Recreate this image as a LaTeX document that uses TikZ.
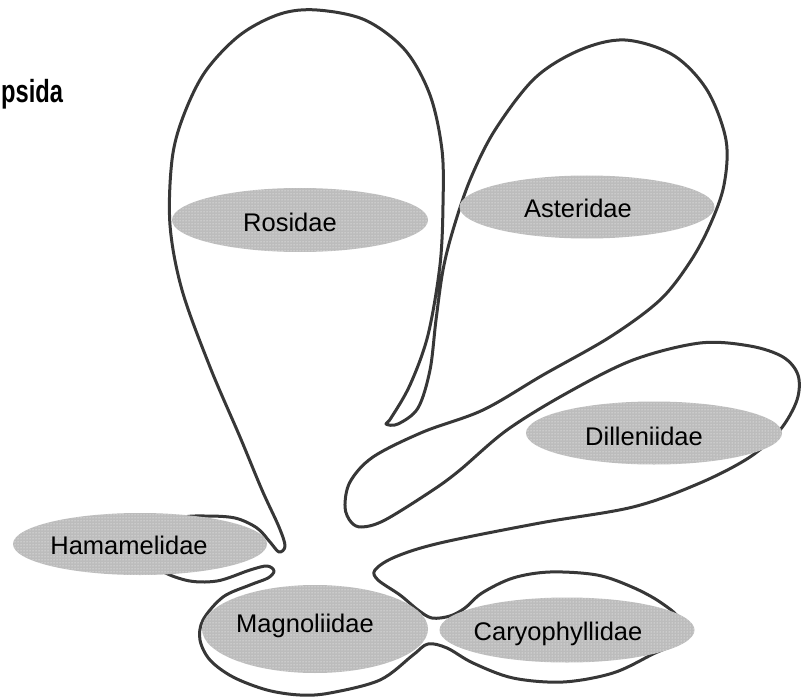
\documentclass[tikz,border=0pt]{standalone}
\usepackage{fontspec}
\setmainfont{Liberation Sans}
\usetikzlibrary{shapes.geometric,patterns}
\definecolor{linecol}{RGB}{55,55,55}
\definecolor{ellfill}{RGB}{188,188,188}
\tikzset{
  outline/.style={draw=linecol, line width=3pt, line join=round},
  ell/.style={ellipse, draw=none, fill=ellfill, inner sep=0pt,
    postaction={pattern=dots, pattern color=white}},
  lab/.style={anchor=base, inner sep=0pt, font=\fontsize{25.5}{30}\selectfont, text=black},
}
\begin{document}
\begin{tikzpicture}[x=1pt,y=-1pt]
\useasboundingbox (0,0) rectangle (801,698);
\draw[outline] plot[smooth cycle, tension=0.55] coordinates {
(205,516) (235,518) (257,528) (270,542) (279,552) (285,546) (279,527)
(262,490) (240,437) (210,367) (182,290) (170,225) (172,160) (183,117)
(205,72) (240,35) (280,14) (317,10) (365,20) (405,50) (430,95) (442,150)
(443,205) (440,265) (428,335) (410,385) (391,418) (386,424) (398,424)
(418,408) (430,370) (436,320) (443,270) (453,230) (470,180) (495,130)
(535,78) (580,50) (625,40) (673,55) (707,90) (726,140) (724,185) (710,225)
(690,262) (660,300) (610,337) (543,375) (483,410) (423,432) (373,457)
(350,482) (345,507) (351,522) (362,527) (385,520) (433,490) (460,470)
(507,430) (567,393) (633,360) (700,343) (750,346) (783,357) (798,375)
(797,400) (780,430) (750,457) (700,483) (633,507) (540,523) (440,543)
(395,557) (375,570) (378,580) (400,595) (418,610) (432,618) (450,616)
(465,608) (482,593) (513,578) (550,572) (597,575) (632,587) (660,602)
(680,620) (676,642) (653,654) (613,673) (563,682) (513,678) (473,663)
(447,648) (428,644) (413,655) (380,680) (330,693) (300,695) (267,690)
(233,677) (210,660) (200,640) (203,620) (223,597) (250,585) (268,578)
(274,571) (267,566) (250,570) (217,581) (185,580) (155,565) (152,532)
(180,518)
};
\node[ell, minimum width=256pt, minimum height=64pt] (rosE) at (300,220) {};
\node[ell, minimum width=255pt, minimum height=63pt] (astE) at (587,207) {};
\node[ell, minimum width=256pt, minimum height=63pt] (dilE) at (654,433) {};
\node[ell, minimum width=254pt, minimum height=62pt] (hamE) at (140,544) {};
\node[ell, minimum width=226pt, minimum height=88pt] (magE) at (315,629) {};
\node[ell, minimum width=255pt, minimum height=65pt] (carE) at (567,630) {};
\node[lab] (rosT) at (290,231.5) {Rosidae};
\node[lab] (astT) at (578,218) {Asteridae};
\node[lab] (dilT) at (644,445) {Dilleniidae};
\node[lab] (hamT) at (129,554) {Hamamelidae};
\node[lab] (magT) at (305,632) {Magnoliidae};
\node[lab] (carT) at (558,640) {Caryophyllidae};
\node[anchor=base west, inner sep=0pt, font=\bfseries\fontsize{32}{38}\selectfont] (titleT) at (1,103) {\scalebox{0.74}[1]{psida}};
\end{tikzpicture}
\end{document}
